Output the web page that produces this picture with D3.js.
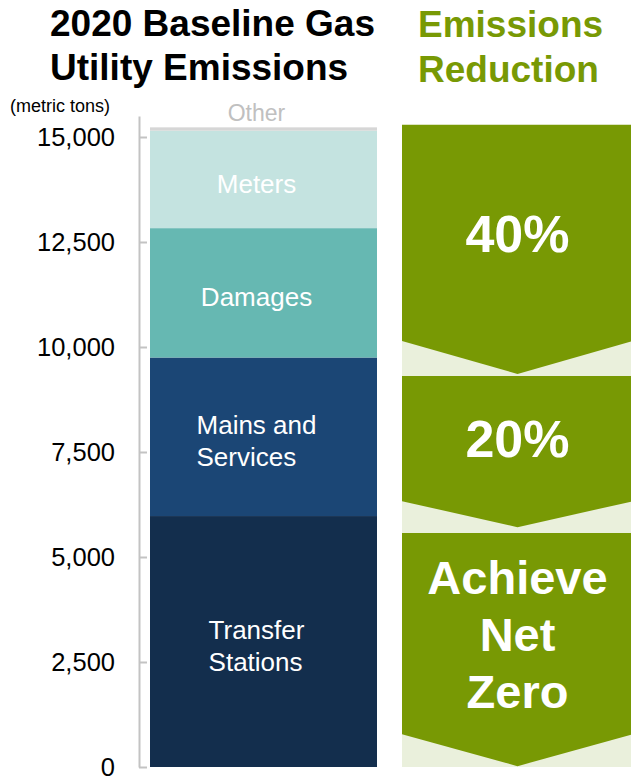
<!DOCTYPE html>
<html>
<head>
<meta charset="utf-8">
<script src="https://cdn.jsdelivr.net/npm/d3@7"></script>
<style>
  html, body { margin: 0; padding: 0; background: #fff; }
  svg { display: block; font-family: "Liberation Sans", Arial, sans-serif; }
</style>
</head>
<body>
<figure id="chart" style="margin:0"></figure>
<script>
// emissions by source, metric tons (bottom to top)
const categories = ["Transfer Stations", "Mains and Services", "Damages", "Meters", "Other"];
const emissions = [5975, 3775, 3080, 2320, 80];
const barLabels = [["Transfer", "Stations"], ["Mains and", "Services"], ["Damages"], ["Meters"], []];
const tickValues = [0, 2500, 5000, 7500, 10000, 12500, 15000];

// reduction stages, expressed in metric tons along the same axis
const stageLabels = [["40%"], ["20%"], ["Achieve", "Net", "Zero"]];
const stageTop = [15290, 9310, 5570];
const stageTip = [9360, 5710, 20];

const width = 631;
const height = 779;
const colors = ["#132e4d", "#1b4675", "#66b8b2", "#c4e3e0", "#d6d6d6"];
const green = "#789904";
const lightGreen = "#eaf0dc";
const notch = [33, 26, 32];

const svg = d3.select("figure#chart")
  .append("svg")
  .attr("width", width)
  .attr("height", height);

const y = d3.scaleLinear().domain([0, 15500]).range([767, 116]);
const x = d3.scaleBand().domain(["2020"]).range([150, 377]).padding(0);

// titles
const title = svg.append("text")
  .style("font-size", "37px")
  .style("font-weight", "bold")
  .attr("fill", "#000");
title.append("tspan").attr("x", 50).attr("y", 36).text("2020 Baseline Gas");
title.append("tspan").attr("x", 50).attr("y", 80).text("Utility Emissions");

const title2 = svg.append("text")
  .style("font-size", "37px")
  .style("font-weight", "bold")
  .attr("fill", green);
title2.append("tspan").attr("x", 418).attr("y", 37).text("Emissions");
title2.append("tspan").attr("x", 418).attr("y", 82).text("Reduction");

svg.append("text")
  .attr("x", 10)
  .attr("y", 112)
  .style("font-size", "18px")
  .attr("fill", "#000")
  .text("(metric tons)");

// axis
const axis = svg.append("g")
  .attr("transform", "translate(139,0)")
  .call(d3.axisLeft(y)
    .tickValues(tickValues)
    .tickFormat(d3.format(","))
    .tickSizeInner(-8)
    .tickSizeOuter(0)
    .tickPadding(24));
axis.select(".domain").attr("stroke", "#c3c3c3").attr("stroke-width", 2);
axis.selectAll(".tick line").attr("stroke", "#c3c3c3").attr("stroke-width", 2);
axis.selectAll(".tick text")
  .attr("fill", "#000")
  .style("font-size", "25.5px")
  .style("font-family", "\"Liberation Sans\", Arial, sans-serif");

// stacked bar
const row = { year: "2020" };
categories.forEach((c, i) => row[c] = emissions[i]);
const series = d3.stack().keys(categories)([row]);

svg.append("g")
  .selectAll("rect")
  .data(series)
  .enter()
  .append("rect")
  .attr("x", x("2020"))
  .attr("width", x.bandwidth())
  .attr("y", d => y(d[0][1]))
  .attr("height", d => y(d[0][0]) - y(d[0][1]))
  .attr("fill", (d, i) => colors[i]);

const labelX = x("2020") + x.bandwidth() / 2 - 7;
series.forEach((s, i) => {
  const lines = barLabels[i];
  if (!lines.length) return;
  const mid = (y(s[0][0]) + y(s[0][1])) / 2 + 4;
  const lh = 32;
  const t = svg.append("text")
    .style("font-size", "26px")
    .attr("fill", "#fff");
  lines.forEach((l, j) => {
    t.append("tspan")
      .attr("y", mid + (j - (lines.length - 1) / 2) * lh)
      .attr("dy", "0.36em")
      .text(l);
  });
  // left-align lines inside a centred block
  let w = 0;
  t.selectAll("tspan").each(function () { w = Math.max(w, this.getComputedTextLength()); });
  t.selectAll("tspan").attr("x", labelX - w / 2);
});

// "Other" label sits above the bar
const other = series[series.length - 1];
svg.append("text")
  .attr("x", labelX)
  .attr("y", y(other[0][1]) - 6)
  .attr("text-anchor", "middle")
  .style("font-size", "23px")
  .attr("fill", "#c0c0c0")
  .text("Other");

// reduction chevrons
const x0 = 402, x1 = 633, cx = (x0 + x1) / 2;
const stages = svg.append("g");
stageLabels.forEach((lines, i) => {
  const top = y(stageTop[i]);
  const tip = y(stageTip[i]);
  const edge = tip - notch[i];
  const next = i + 1 < stageTop.length ? y(stageTop[i + 1]) : y(0);

  stages.append("rect")
    .attr("x", x0).attr("y", edge)
    .attr("width", x1 - x0).attr("height", next - edge)
    .attr("fill", lightGreen);

  stages.append("path")
    .attr("d", d3.line()([[x0, top], [x1, top], [x1, edge], [cx, tip], [x0, edge]]) + "Z")
    .attr("fill", green);

  const big = lines.length === 1;
  const fs = big ? 52 : 47;
  const lh = 57;
  const mid = (top + edge) / 2;
  const t = stages.append("text")
    .attr("text-anchor", "middle")
    .style("font-size", fs + "px")
    .style("font-weight", "bold")
    .attr("fill", "#fff");
  lines.forEach((l, j) => {
    t.append("tspan")
      .attr("x", cx)
      .attr("y", mid + (j - (lines.length - 1) / 2) * lh)
      .attr("dy", "0.36em")
      .text(l);
  });
});
</script>
</body>
</html>
